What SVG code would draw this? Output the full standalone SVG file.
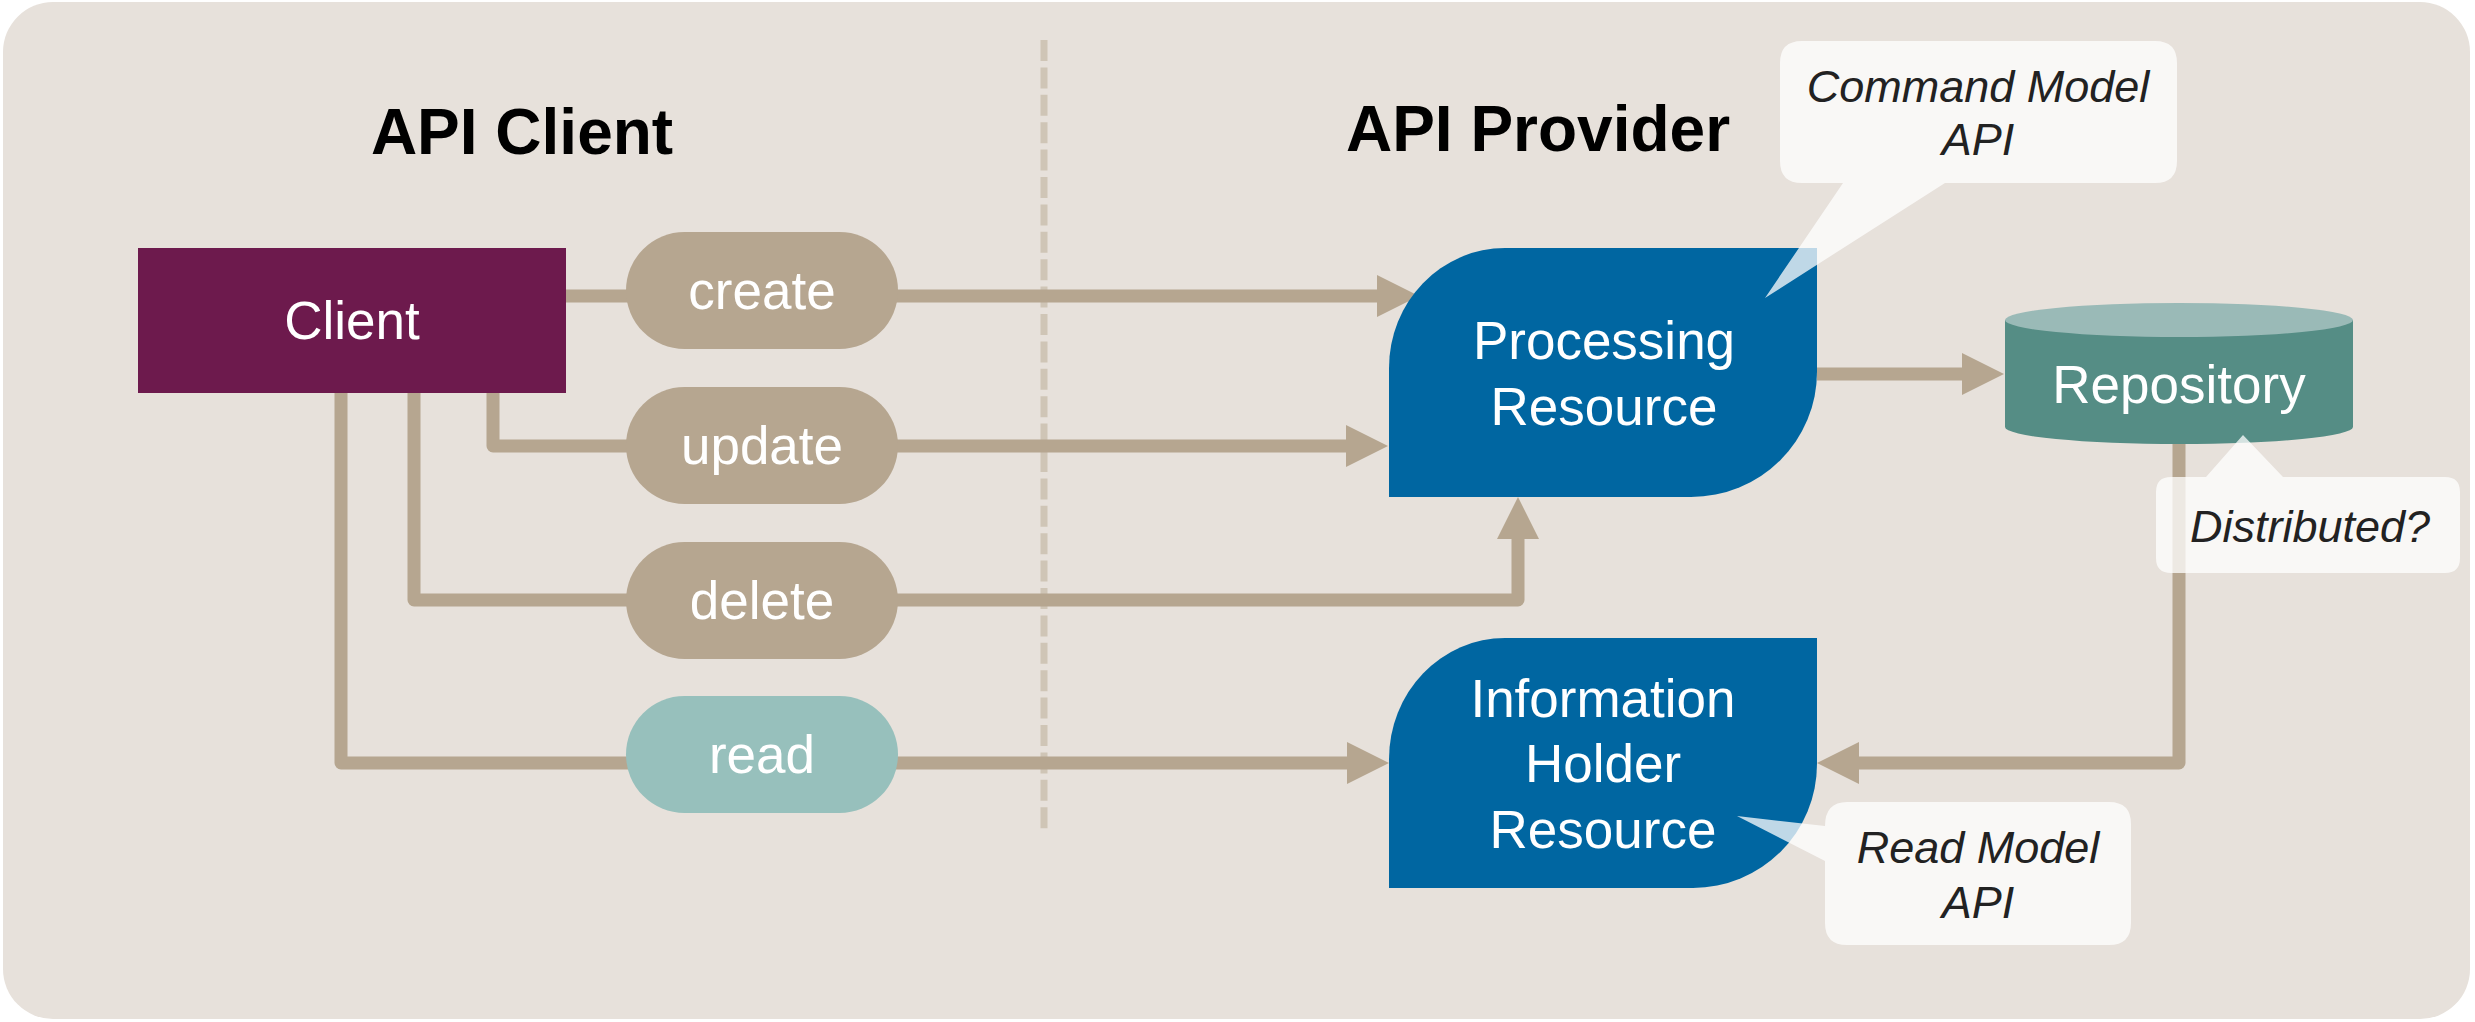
<svg xmlns="http://www.w3.org/2000/svg" width="2475" height="1022" viewBox="0 0 2475 1022">
  <defs>
    <style>
      .conn { fill: none; stroke: #b6a690; stroke-width: 13; stroke-linejoin: round; }
      .lbl { font-family: "Liberation Sans", Arial, sans-serif; font-size: 53px; fill: #ffffff; text-anchor: middle; }
      .hdr { font-family: "Liberation Sans", Arial, sans-serif; font-size: 64px; font-weight: bold; fill: #000000; text-anchor: middle; }
      .note { font-family: "Liberation Sans", Arial, sans-serif; font-size: 45px; font-style: italic; fill: #222222; text-anchor: middle; }
      .pill { fill: #b6a690; }
      .res { fill: #0066a1; }
      .callout { fill: #ffffff; fill-opacity: 0.75; }
    </style>
    <marker id="arrow" markerUnits="userSpaceOnUse" viewBox="0 0 42 42" markerWidth="42" markerHeight="42" refX="0" refY="21" orient="auto">
      <path d="M0,0 L42,21 L0,42 Z" fill="#b6a690"/>
    </marker>
  </defs>

  <rect id="background" x="3" y="2" width="2467" height="1017" rx="50" ry="50" fill="#e7e1db"/>
  <line id="divider" x1="1044" y1="40" x2="1044" y2="832" stroke="#cfc5b6" stroke-width="7" stroke-dasharray="21 6.4"/>

  <g id="headers">
    <text class="hdr" x="522" y="154">API Client</text>
    <text class="hdr" x="1538" y="151">API Provider</text>
  </g>

  <g id="connectors">
    <path class="conn" d="M566,296 H1377" marker-end="url(#arrow)"/>
    <path class="conn" d="M493,393 V446 H1346" marker-end="url(#arrow)"/>
    <path class="conn" d="M414,393 V600 H1518 V539" marker-end="url(#arrow)"/>
    <path class="conn" d="M341,393 V763 H1347" marker-end="url(#arrow)"/>
    <path class="conn" d="M1817,374 H1962" marker-end="url(#arrow)"/>
    <path class="conn" d="M2179,444 V763 H1859" marker-end="url(#arrow)"/>
  </g>

  <g id="client">
    <rect x="138" y="248" width="428" height="145" fill="#6d1a4d"/>
    <text class="lbl" x="352" y="339">Client</text>
  </g>

  <g id="op-create">
    <rect class="pill" x="626" y="232" width="272" height="117" rx="58.5" ry="58.5"/>
    <text class="lbl" x="762" y="309">create</text>
  </g>
  <g id="op-update">
    <rect class="pill" x="626" y="387" width="272" height="117" rx="58.5" ry="58.5"/>
    <text class="lbl" x="762" y="464">update</text>
  </g>
  <g id="op-delete">
    <rect class="pill" x="626" y="542" width="272" height="117" rx="58.5" ry="58.5"/>
    <text class="lbl" x="762" y="619">delete</text>
  </g>
  <g id="op-read">
    <rect x="626" y="696" width="272" height="117" rx="58.5" ry="58.5" fill="#97c0bc"/>
    <text class="lbl" x="762" y="773">read</text>
  </g>

  <g id="processing-resource">
    <path class="res" d="M1389,497 V368 A116,120 0 0 1 1505,248 H1817 V372 A126,125 0 0 1 1691,497 Z"/>
    <text class="lbl" x="1604" y="359">Processing</text>
    <text class="lbl" x="1604" y="425">Resource</text>
  </g>

  <g id="information-holder-resource">
    <path class="res" d="M1389,888 V759 A116,121 0 0 1 1505,638 H1817 V764 A124,124 0 0 1 1693,888 Z"/>
    <text class="lbl" x="1603" y="717">Information</text>
    <text class="lbl" x="1603" y="782">Holder</text>
    <text class="lbl" x="1603" y="848">Resource</text>
  </g>

  <g id="repository">
    <path d="M2005,320 V427 A174,17 0 0 0 2353,427 V320 Z" fill="#558d85"/>
    <ellipse cx="2179" cy="320" rx="174" ry="17" fill="#9abab7"/>
    <text class="lbl" x="2179" y="403">Repository</text>
  </g>

  <g id="note-command">
    <path class="callout" d="M1802,41 H2155 Q2177,41 2177,63 V161 Q2177,183 2155,183 H1945 L1765,298 L1843,183 H1802 Q1780,183 1780,161 V63 Q1780,41 1802,41 Z"/>
    <text class="note" x="1978" y="102">Command Model</text>
    <text class="note" x="1978" y="155">API</text>
  </g>

  <g id="note-read">
    <path class="callout" d="M1847,802 H2109 Q2131,802 2131,824 V923 Q2131,945 2109,945 H1847 Q1825,945 1825,923 V861 L1737,816 L1825,826 Q1825,802 1847,802 Z"/>
    <text class="note" x="1978" y="863">Read Model</text>
    <text class="note" x="1978" y="918">API</text>
  </g>

  <g id="note-distributed">
    <path class="callout" d="M2171,477 H2206 L2243,435 L2283,477 H2445 Q2460,477 2460,492 V558 Q2460,573 2445,573 H2171 Q2156,573 2156,558 V492 Q2156,477 2171,477 Z"/>
    <text class="note" x="2310" y="542">Distributed?</text>
  </g>
</svg>
